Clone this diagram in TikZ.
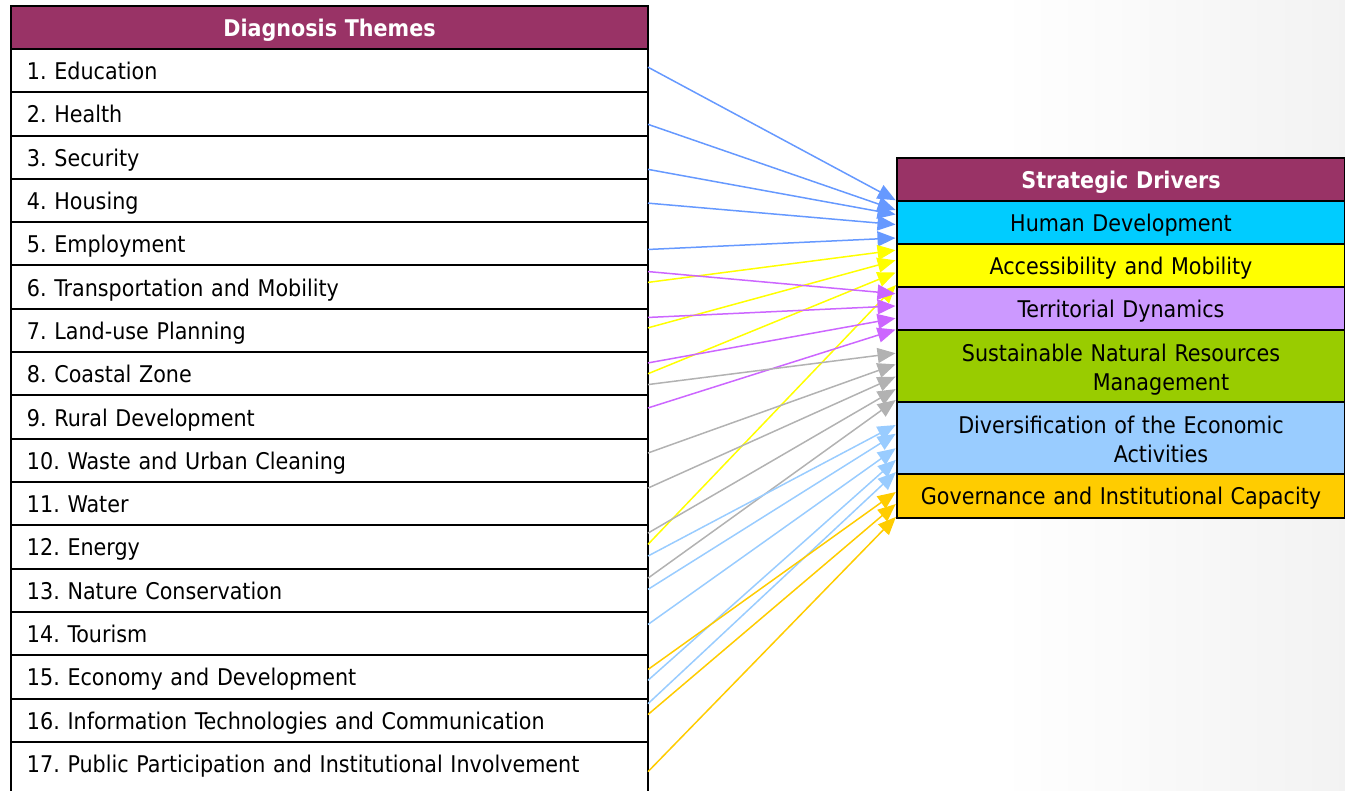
\documentclass[tikz,border=0pt]{standalone}
\usepackage{fontspec}
\setmainfont{DejaVu Sans Condensed}[BoldFont={DejaVu Sans Condensed Bold}]
\usetikzlibrary{calc,arrows.meta}
\frenchspacing
\definecolor{hdr}{HTML}{993366}
\definecolor{cCyan}{HTML}{00CCFF}
\definecolor{cYel}{HTML}{FFFF00}
\definecolor{cLav}{HTML}{CC99FF}
\definecolor{cGrn}{HTML}{99CC00}
\definecolor{cLblue}{HTML}{99CCFF}
\definecolor{cGold}{HTML}{FFCC00}
\definecolor{aBlue}{HTML}{6699FF}
\definecolor{aPurp}{HTML}{CC66FF}
\definecolor{aGray}{HTML}{B2B2B2}
\begin{document}
\begin{tikzpicture}[x=1pt,y=-1pt,
  border/.style={draw=black,line width=2pt},
  cell/.style={border,minimum width=637pt,minimum height=43.3pt,outer sep=0pt,
    text width=605pt,align=left,inner xsep=16pt,inner ysep=0pt,anchor=north west,
    text height=18pt,text depth=0pt,font=\fontsize{23}{27}\selectfont},
  headcell/.style={cell,fill=hdr,text=white,align=center,minimum height=43pt,font=\fontsize{23}{27}\selectfont\bfseries},
  dcell/.style={border,minimum width=448pt,text width=430pt,align=center,outer sep=0pt,
    inner xsep=9pt,inner ysep=0pt,anchor=north west,font=\fontsize{23}{29}\selectfont},
  done/.style={dcell,text height=18pt,text depth=0pt},
  dtwo/.style={dcell,minimum height=72pt,text height=21pt,text depth=29pt},
  arr/.style={line width=1.5pt,-{Triangle[length=18pt,width=15pt]},shorten >=1.5pt}]
\useasboundingbox (0,0) rectangle (1345,791);
\clip (0,0) rectangle (1345,791);
\shade[left color=white,right color=black!5] (1000,0) rectangle (1345,791);
% left table
\node[headcell] (th) at (11,6) {Diagnosis Themes};
\foreach \i/\t in {1/{1. Education},2/{2. Health},3/{3. Security},4/{4. Housing},5/{5. Employment},
  6/{6. Transportation and Mobility},7/{7. Land-use Planning},8/{8. Coastal Zone},9/{9. Rural Development},
  10/{10. Waste and Urban Cleaning},11/{11. Water},12/{12. Energy},13/{13. Nature Conservation},
  14/{14. Tourism},15/{15. Economy and Development},16/{16. Information Technologies and Communication}}
  \node[cell,fill=white] (r\i) at (11,{49+(\i-1)*43.3}) {\t};
\node[cell,fill=white,draw=none] (r17) at (11,{49+16*43.3}) {17. Public Participation and Institutional Involvement};
\draw[border] ([yshift=-20pt]r17.south west) -- (r17.north west) -- (r17.north east) -- ([yshift=-20pt]r17.south east);
% right table
\node[done,fill=hdr,text=white,minimum height=43pt,font=\fontsize{23}{27}\selectfont\bfseries] (dh) at (897,158) {Strategic Drivers};
\node[done,fill=cCyan,minimum height=43pt] (hd) at (897,201) {Human Development};
\node[done,fill=cYel,minimum height=43pt] (am) at (897,244) {Accessibility and Mobility};
\node[done,fill=cLav,minimum height=43pt] (td) at (897,287) {Territorial Dynamics};
\node[dtwo,fill=cGrn] (sn) at (897,330) {Sustainable Natural Resources\\\hspace*{80pt}Management};
\node[dtwo,fill=cLblue] (de) at (897,402) {Diversification of the Economic\\\hspace*{80pt}Activities};
\node[done,fill=cGold,minimum height=44pt] (gi) at (897,474) {Governance and Institutional Capacity};
% connectors
\newcommand\lnk[5]{\draw[arr,#1] ($(#2.north east)!#3!(#2.south east)$) -- ($(#4.north west)!#5!(#4.south west)$);}
% human development
\lnk{aBlue}{r1}{0.42}{hd}{0.0}
\lnk{aBlue}{r2}{0.74}{hd}{0.22}
\lnk{aBlue}{r3}{0.78}{hd}{0.32}
\lnk{aBlue}{r4}{0.56}{hd}{0.55}
\lnk{aBlue}{r5}{0.63}{hd}{0.86}
% accessibility
\lnk{cYel}{r6}{0.39}{am}{0.14}
\lnk{cYel}{r7}{0.44}{am}{0.37}
\lnk{cYel}{r8}{0.50}{am}{0.65}
\lnk{cYel}{r12}{0.44}{am}{0.93}
% territorial
\lnk{aPurp}{r6}{0.14}{td}{0.16}
\lnk{aPurp}{r7}{0.20}{td}{0.44}
\lnk{aPurp}{r8}{0.25}{td}{0.72}
\lnk{aPurp}{r9}{0.29}{td}{0.98}
% sustainable
\lnk{aGray}{r8}{0.75}{sn}{0.32}
\lnk{aGray}{r10}{0.33}{sn}{0.47}
\lnk{aGray}{r11}{0.14}{sn}{0.64}
\lnk{aGray}{r12}{0.18}{sn}{0.81}
\lnk{aGray}{r13}{0.22}{sn}{0.96}
% diversification
\lnk{cLblue}{r12}{0.71}{de}{0.31}
\lnk{cLblue}{r13}{0.48}{de}{0.43}
\lnk{cLblue}{r14}{0.29}{de}{0.63}
\lnk{cLblue}{r15}{0.58}{de}{0.79}
\lnk{cLblue}{r16}{0.12}{de}{0.96}
% governance
\lnk{cGold}{r15}{0.33}{gi}{0.39}
\lnk{cGold}{r16}{0.37}{gi}{0.66}
\lnk{cGold}{r17}{0.69}{gi}{0.95}
\end{tikzpicture}
\end{document}
